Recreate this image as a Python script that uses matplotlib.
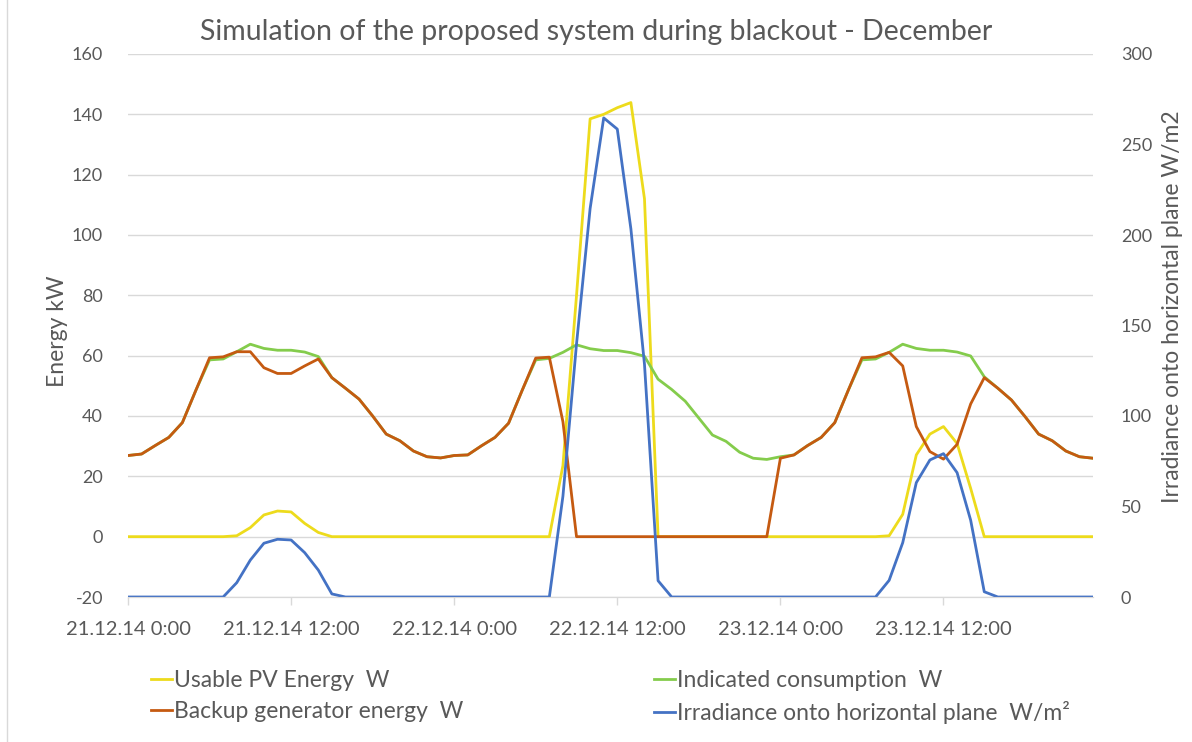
import numpy as np
import matplotlib
matplotlib.use("Agg")
import matplotlib.pyplot as plt
from matplotlib.lines import Line2D
from matplotlib.patches import Rectangle

plt.rcParams['font.family'] = ['Lato', 'DejaVu Sans']
plt.rcParams['axes.unicode_minus'] = False

# hourly values, 21.12.14 0:00 .. 23.12.14 23:00
hours = np.arange(72)

usable_pv = [0, 0, 0, 0, 0, 0, 0, 0, 0.3, 3.0, 7.2, 8.5, 8.2, 4.4, 1.4, 0,
             0, 0, 0, 0, 0, 0, 0, 0,
             0, 0, 0, 0, 0, 0, 0, 0, 23.6, 80, 138.5, 140, 142.2, 143.9, 112, 0,
             0, 0, 0, 0, 0, 0, 0, 0,
             0, 0, 0, 0, 0, 0, 0, 0, 0.3, 7.4, 27.1, 34.0, 36.5, 30.9, 16.0, 0,
             0, 0, 0, 0, 0, 0, 0, 0]

consumption = [26.9, 27.4, 30.2, 32.9, 37.8, 48.6, 58.6, 58.9, 61.3, 63.8, 62.4, 61.8,
               61.8, 61.2, 59.7, 52.7, 49.2, 45.6, 40.0, 34.0, 31.8, 28.4, 26.5, 26.1,
               26.9, 27.1, 30.1, 32.9, 37.6, 48.5, 58.6, 59.1, 61.1, 63.6, 62.3, 61.7,
               61.7, 61.0, 59.8, 52.2, 48.8, 44.9, 39.3, 33.7, 31.6, 28.0, 26.0, 25.6,
               26.5, 27.1, 30.2, 32.9, 37.8, 48.6, 58.6, 58.9, 61.1, 63.8, 62.4, 61.8,
               61.8, 61.2, 59.9, 53.0, 49.2, 45.3, 39.8, 34.0, 31.8, 28.4, 26.5, 26.0]

backup = [26.9, 27.4, 30.2, 32.9, 37.8, 48.6, 59.3, 59.6, 61.3, 61.3, 56.0, 54.1,
          54.1, 56.6, 58.9, 52.7, 49.2, 45.6, 40.0, 34.0, 31.8, 28.4, 26.5, 26.1,
          26.9, 27.1, 30.1, 32.9, 37.6, 48.5, 59.2, 59.5, 38.1, 0, 0, 0,
          0, 0, 0, 0, 0, 0, 0, 0, 0, 0, 0, 0,
          26.0, 27.1, 30.2, 32.9, 37.8, 48.6, 59.3, 59.6, 61.1, 56.6, 36.5, 28.2,
          25.7, 30.6, 44.0, 52.7, 49.2, 45.3, 39.8, 34.0, 31.8, 28.4, 26.5, 26.0]

irradiance = [0, 0, 0, 0, 0, 0, 0, 0, 7.9, 20.4, 29.7, 31.9, 31.5, 24.5, 14.9, 1.7,
              0, 0, 0, 0, 0, 0, 0, 0,
              0, 0, 0, 0, 0, 0, 0, 0, 55.7, 139.8, 214.6, 264.7, 258.5, 203.4, 128.6, 9.0,
              0, 0, 0, 0, 0, 0, 0, 0,
              0, 0, 0, 0, 0, 0, 0, 0, 9.2, 30.0, 63.2, 75.7, 79.2, 68.7, 42.4, 2.9,
              0, 0, 0, 0, 0, 0, 0, 0]

tick_hours = [0, 12, 24, 36, 48, 60]
tick_labels = ['21.12.14 0:00', '21.12.14 12:00', '22.12.14 0:00',
               '22.12.14 12:00', '23.12.14 0:00', '23.12.14 12:00']

c_yellow = '#EDDB1C'
c_green = '#84CC4C'
c_brown = '#C55A11'
c_blue = '#4472C4'
c_text = '#595959'
c_grid = '#D9D9D9'

W, H = 1192, 742
fig = plt.figure(figsize=(W / 100, H / 100), dpi=100)
ax = fig.add_axes([128 / W, 1 - 597 / H, (1093 - 128) / W, (597 - 54) / H])
ax2 = ax.twinx()

# chart border
fig.patches.append(Rectangle((7 / W, -0.1), 1.2, 1.2, transform=fig.transFigure,
                             fill=False, edgecolor=c_grid, lw=1))

ax.plot(hours, usable_pv, color=c_yellow, lw=2.0)
ax.plot(hours, consumption, color=c_green, lw=2.0)
ax.plot(hours, backup, color=c_brown, lw=2.0)
ax2.plot(hours, irradiance, color=c_blue, lw=2.0)

ax.set_xlim(0, 71)
ax.set_ylim(-20, 160)
ax.set_yticks(range(-20, 161, 20))
ax2.set_ylim(0, 300)
ax2.set_yticks(range(0, 301, 50))
ax.grid(axis='y', color=c_grid, lw=1)
ax.set_axisbelow(True)

for a in (ax, ax2):
    for s in ('top', 'left', 'right'):
        a.spines[s].set_visible(False)
    a.spines['bottom'].set_color(c_grid)

ax.set_xticks(tick_hours)
ax.set_xticklabels(tick_labels)
ax.tick_params(axis='x', colors=c_grid, length=6, width=1, pad=11, labelcolor=c_text, labelsize=14.5)
ax.tick_params(axis='y', length=0, pad=18, labelcolor=c_text, labelsize=13)
ax2.tick_params(axis='y', length=0, pad=20, labelcolor=c_text, labelsize=13)

ax.set_ylabel('Energy kW', color=c_text, fontsize=16.5)
ax.yaxis.set_label_coords(-0.062, 0.49)
ax2.set_ylabel('Irradiance onto horizontal plane W/m2', color=c_text, fontsize=16.5)
ax2.yaxis.set_label_coords(1.0715, 0.534)

fig.suptitle('Simulation of the proposed system during blackout - December',
             x=0.5, y=1 - 32 / H, va='center', color=c_text, fontsize=20.5)

h1 = [Line2D([], [], color=c_yellow, lw=2), Line2D([], [], color=c_brown, lw=2)]
h2 = [Line2D([], [], color=c_green, lw=2), Line2D([], [], color=c_blue, lw=2)]
common = dict(frameon=False, fontsize=16.5, handlelength=0.9, handletextpad=0.12,
              labelspacing=0.42, labelcolor=c_text, borderaxespad=0, borderpad=0)
fig.legend(h1, ['Usable PV Energy  W', 'Backup generator energy  W'],
           loc='upper left', bbox_to_anchor=(151 / W, 1 - 670 / H), **common)
fig.legend(h2, ['Indicated consumption  W', 'Irradiance onto horizontal plane  W/m\u00b2'],
           loc='upper left', bbox_to_anchor=(654 / W, 1 - 670 / H), **common)

fig.savefig('out.png', dpi=100)
